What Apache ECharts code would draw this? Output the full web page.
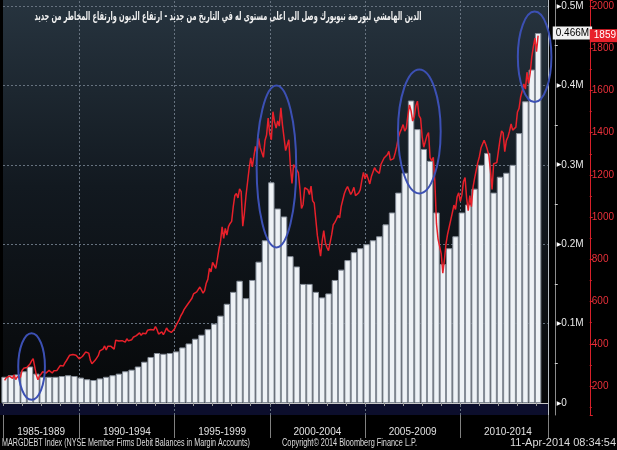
<!DOCTYPE html>
<html>
<head>
<meta charset="utf-8">
<script src="https://cdn.jsdelivr.net/npm/echarts@6/dist/echarts.min.js"></script>
<style>
html, body { margin: 0; padding: 0; background: #000; }
#main { width: 617px; height: 450px; }
</style>
</head>
<body>
<div id="main"></div>
<script>
// S&P 500 month-end closes, Feb 1986 .. Feb 2014 (right axis, red line)
var spxStart = 1986 + 1 / 12;
var spx = [
  227, 239, 236, 247, 251, 236, 253, 231, 244, 249, 242,
  274, 284, 292, 288, 290, 304, 319, 330, 322, 252, 230, 247,
  257, 268, 259, 261, 262, 274, 272, 262, 272, 279, 274, 278,
  297, 289, 295, 310, 321, 318, 346, 351, 349, 340, 346, 353,
  329, 332, 340, 331, 361, 358, 356, 323, 306, 304, 322, 330,
  344, 367, 375, 375, 390, 371, 388, 395, 388, 392, 375, 417,
  409, 413, 404, 415, 415, 408, 424, 414, 418, 419, 431, 436,
  439, 443, 452, 440, 450, 451, 448, 464, 459, 468, 462, 466,
  482, 467, 446, 451, 457, 444, 458, 475, 463, 472, 454, 459,
  470, 487, 501, 515, 533, 545, 562, 562, 584, 582, 605, 616,
  636, 640, 646, 654, 669, 671, 640, 652, 687, 705, 757, 741,
  786, 791, 757, 801, 848, 885, 954, 899, 947, 915, 955, 970,
  980, 1049, 1102, 1112, 1091, 1134, 1121, 957, 1017, 1099, 1164, 1229,
  1280, 1238, 1286, 1335, 1302, 1373, 1329, 1320, 1283, 1363, 1389, 1469,
  1394, 1366, 1499, 1452, 1421, 1455, 1431, 1518, 1437, 1429, 1315, 1320,
  1366, 1240, 1160, 1249, 1256, 1224, 1211, 1134, 1041, 1060, 1139, 1148,
  1130, 1107, 1147, 1077, 1067, 990, 912, 916, 815, 886, 936, 880,
  856, 841, 848, 917, 964, 975, 990, 1008, 996, 1051, 1058, 1112,
  1131, 1145, 1126, 1107, 1121, 1141, 1102, 1104, 1115, 1130, 1174, 1212,
  1181, 1204, 1181, 1157, 1192, 1191, 1234, 1220, 1229, 1207, 1249, 1248,
  1280, 1281, 1295, 1311, 1270, 1270, 1277, 1304, 1336, 1378, 1401, 1418,
  1438, 1407, 1421, 1482, 1531, 1503, 1455, 1474, 1527, 1549, 1481, 1468,
  1379, 1331, 1323, 1386, 1400, 1280, 1267, 1283, 1165, 969, 896, 903,
  826, 735, 798, 873, 919, 919, 987, 1021, 1057, 1036, 1096, 1115,
  1074, 1104, 1169, 1187, 1089, 1031, 1102, 1049, 1141, 1183, 1181, 1258,
  1286, 1327, 1326, 1364, 1345, 1321, 1292, 1219, 1131, 1253, 1247, 1258,
  1312, 1366, 1408, 1398, 1310, 1362, 1379, 1407, 1441, 1412, 1416, 1426,
  1498, 1515, 1569, 1598, 1631, 1606, 1686, 1633, 1682, 1757, 1806, 1848,
  1783, 1859
];

// NYSE margin debt, $ billions, every 4 months (Feb/Jun/Oct) Feb 1986 .. Feb 2014
var debtStart = 1986 + 1 / 12;
var debt = [
  33, 35, 36,
  40, 46, 37,
  33, 33, 33,
  34, 35, 34,
  32, 30, 29,
  31, 33, 35,
  37, 40, 42,
  46, 52, 58,
  63, 62, 63,
  65, 70, 75,
  81, 86, 93,
  100, 110, 125,
  140, 154, 132,
  155, 178, 205,
  278, 245, 235,
  185, 172, 150,
  150, 140, 133,
  138, 155, 168,
  180, 190, 195,
  200, 205, 210,
  225, 240, 265,
  290, 381, 345,
  320, 305, 240,
  175, 195, 210,
  240, 250, 270,
  300, 315, 265,
  285, 290, 300,
  340, 380, 420,
  466
];

// period labels and the year where each one is centred
var periodLabels = ['1985-1989', '1990-1994', '1995-1999', '2000-2004', '2005-2009', '2010-2014'];
var periodCentres = [1988, 1992.5, 1997.5, 2002.5, 2007.5, 2012.5];

// dotted grid: period boundaries and left-axis steps ($bn)
var gridYears = [1990, 1995, 2000, 2005, 2010];
var gridDebt = [100, 200, 300, 400, 500];

// blue circles: centre [year, $bn], radius [years, $bn]
var circles = [
  [1987.5, 46, 0.70, 42],
  [2000.35, 298, 1.04, 102],
  [2007.85, 342, 1.12, 78],
  [2013.9, 436, 0.88, 57]
];

var titleText = 'الدين الهامشي لبورصة نيويورك وصل الى اعلى مستوى له في التاريخ من جديد - ارتفاع الديون وارتفاع المخاطر من جديد';
var footer = [
  ['MARGDEBT Index (NYSE Member Firms Debit Balances in Margin Accounts)', 2, 248],
  ['Copyright© 2014 Bloomberg Finance L.P.', 282, 135],
  ['11-Apr-2014 08:34:54', 510, 106]
];

var FONT = "'Liberation Sans', 'DejaVu Sans', sans-serif";
var X_MIN = 1986, X_MAX = 2014.59;
// axis extents run from the frame top (y=0) to the frame bottom (y=415)
var DEBT_MIN = -15.1, DEBT_MAX = 507.6;
var SPX_MIN = 63, SPX_MAX = 2028;

var spxData = spx.map(function (v, i) { return [spxStart + i / 12, v]; });
var debtData = debt.map(function (v, i) { return [debtStart + i / 3, v]; });

var gridMarks = gridYears.map(function (y) { return { xAxis: y }; })
  .concat(gridDebt.map(function (v) { return { yAxis: v }; }));

var chart = echarts.init(document.getElementById('main'));

var option = {
  backgroundColor: '#000',
  animation: false,
  textStyle: { fontFamily: FONT },
  grid: { left: 0, right: 69, top: 0, bottom: 35, show: false },
  xAxis: [
    { type: 'value', position: 'bottom', min: X_MIN, max: X_MAX, interval: 1,
      axisLine: { show: true, lineStyle: { color: '#c8c8c8', width: 1 } },
      axisTick: { show: true, length: 3, lineStyle: { color: '#9a9a9a' } },
      axisLabel: { show: false }, splitLine: { show: false } },
    { type: 'value', position: 'bottom', min: X_MIN, max: X_MAX, splitNumber: 6,
      axisLine: { show: false },
      axisTick: { show: true, length: 23, lineStyle: { color: '#808080' } },
      axisLabel: { show: false }, splitLine: { show: false } },
    { type: 'value', position: 'bottom', min: X_MIN, max: X_MAX, interval: 0.5,
      axisLine: { show: false }, axisTick: { show: false }, splitLine: { show: false },
      axisLabel: { show: true, color: '#e0e0e0', fontSize: 10, margin: 12,
        formatter: function (v) {
          for (var k = 0; k < periodCentres.length; k++) {
            if (Math.abs(v - periodCentres[k]) < 1e-6) return periodLabels[k];
          }
          return '';
        } } }
  ],
  yAxis: [
    { type: 'value', position: 'right', offset: 7, min: DEBT_MIN, max: DEBT_MAX, splitNumber: 5,
      axisLine: { show: true, lineStyle: { color: '#8c8c8c' } },
      axisTick: { show: false },
      minorTick: { show: true, splitNumber: 2, length: 3, lineStyle: { color: '#d0d0d0' } },
      axisLabel: { color: '#e8e8e8', fontSize: 10, margin: 2,
        formatter: function (v) {
          if (Math.abs(v % 100) > 1e-6) return '';
          return '{a|▶}' + (v === 0 ? '0' : (v / 1000).toFixed(1) + 'M');
        },
        rich: { a: { fontSize: 6, color: '#ffffff' } } },
      splitLine: { show: false } },
    { type: 'value', position: 'right', offset: 42, min: SPX_MIN, max: SPX_MAX, splitNumber: 10,
      axisLine: { show: true, lineStyle: { color: '#d8202a' } },
      axisTick: { show: true, length: 3, lineStyle: { color: '#d8202a' } },
      minorTick: { show: true, splitNumber: 2, length: 2, lineStyle: { color: '#d8202a' } },
      axisLabel: { color: '#e8303a', fontSize: 10, margin: 2,
        formatter: function (v) { return Math.abs(v % 200) > 1e-6 ? '' : String(v); } },
      splitLine: { show: false } }
  ],
  series: [
    // carrier for the dotted grid and the right frame line, drawn below the bars
    { name: 'grid', type: 'line', xAxisIndex: 0, yAxisIndex: 0, data: debtData,
      showSymbol: false, silent: true, z: 1,
      lineStyle: { color: 'rgba(0,0,0,0)', width: 0 },
      markLine: { silent: true, symbol: 'none', z: 1, animation: false,
        label: { show: false },
        lineStyle: { color: '#66727f', type: [2, 2], width: 1, opacity: 1 },
        data: gridMarks.concat([{ xAxis: X_MAX, lineStyle: { color: '#b8bec4', type: 'solid', width: 1, opacity: 1 } }]) } },
    { name: 'MARGDEBT', type: 'bar', xAxisIndex: 0, yAxisIndex: 0, data: debtData,
      barWidth: 6.4, z: 2,
      itemStyle: { color: '#eef2f6', borderColor: '#858d98', borderWidth: 1 },
      markLine: { silent: true, symbol: 'none', z: 10,
        lineStyle: { color: 'rgba(0,0,0,0)', width: 0 },
        label: { show: true, position: 'end', distance: 5, color: '#000', backgroundColor: '#f2f2f2',
          padding: [2, 3, 1, 3], fontSize: 10,
          formatter: function (p) { return (p.value / 1000).toFixed(3) + 'M'; } },
        data: [{ yAxis: debt[debt.length - 1] }] } },
    { name: 'SPX', type: 'line', xAxisIndex: 0, yAxisIndex: 1, data: spxData,
      showSymbol: false, z: 3,
      lineStyle: { color: '#e8202a', width: 1.5 },
      markLine: { silent: true, symbol: 'none', z: 10,
        lineStyle: { color: 'rgba(0,0,0,0)', width: 0 },
        label: { show: true, position: 'end', distance: 42, color: '#fff', backgroundColor: '#e8202a',
          padding: [2, 4, 1, 4], fontSize: 10,
          formatter: function (p) { return String(p.value); } },
        data: [{ yAxis: spx[spx.length - 1] }] } }
  ]
};

chart.setOption(option);

// text widths are fitted to the original's narrow font
var measure = document.createElement('canvas').getContext('2d');
function fitText(text, font, width) {
  measure.font = font;
  return width / measure.measureText(text).width;
}

var finder = { xAxisIndex: 0, yAxisIndex: 0 };
var topPx = chart.convertToPixel(finder, [X_MIN, DEBT_MAX]);
var zeroPx = chart.convertToPixel(finder, [X_MIN, 0]);
var endPx = chart.convertToPixel(finder, [X_MAX, DEBT_MIN]);
var graphics = [
  // plot background on a lower layer
  { type: 'rect', zlevel: -1, z: 0, silent: true,
    shape: { x: topPx[0], y: topPx[1], width: endPx[0] - topPx[0], height: endPx[1] - topPx[1] },
    style: { fill: new echarts.graphic.LinearGradient(0, 0, 0, 1, [
      { offset: 0, color: '#27343f' }, { offset: 0.45, color: '#121920' }, { offset: 1, color: '#060708' }]) } },
  // navy strip under the zero line
  { type: 'rect', zlevel: -1, z: 1, silent: true,
    shape: { x: 0, y: zeroPx[1], width: endPx[0], height: endPx[1] - zeroPx[1] },
    style: { fill: '#0c0e2c' } }
];
circles.forEach(function (c) {
  var ctr = chart.convertToPixel(finder, [c[0], c[1]]);
  var edge = chart.convertToPixel(finder, [c[0] + c[2], c[1] + c[3]]);
  graphics.push({ type: 'ellipse', z: 100, silent: true,
    shape: { cx: ctr[0], cy: ctr[1], rx: edge[0] - ctr[0], ry: ctr[1] - edge[1] },
    style: { fill: 'none', stroke: '#3c50b4', lineWidth: 2 } });
});

var titleFont = "bold 12px 'DejaVu Sans'";
graphics.push({ type: 'text', z: 100, silent: true, x: 228, y: 17,
  scaleX: fitText(titleText, titleFont, 387),
  style: { text: titleText, font: titleFont, fill: '#f0f0f0', align: 'center', verticalAlign: 'middle' } });

var footFont = "10px 'Liberation Sans'";
footer.forEach(function (f) {
  graphics.push({ type: 'text', z: 100, silent: true, x: f[1], y: 443,
    scaleX: fitText(f[0], footFont, f[2]),
    style: { text: f[0], font: footFont, fill: '#dcdcdc', align: 'left', verticalAlign: 'middle' } });
});
chart.setOption({ graphic: graphics });

window.onresize = function () { chart.resize(); };
</script>
</body>
</html>
